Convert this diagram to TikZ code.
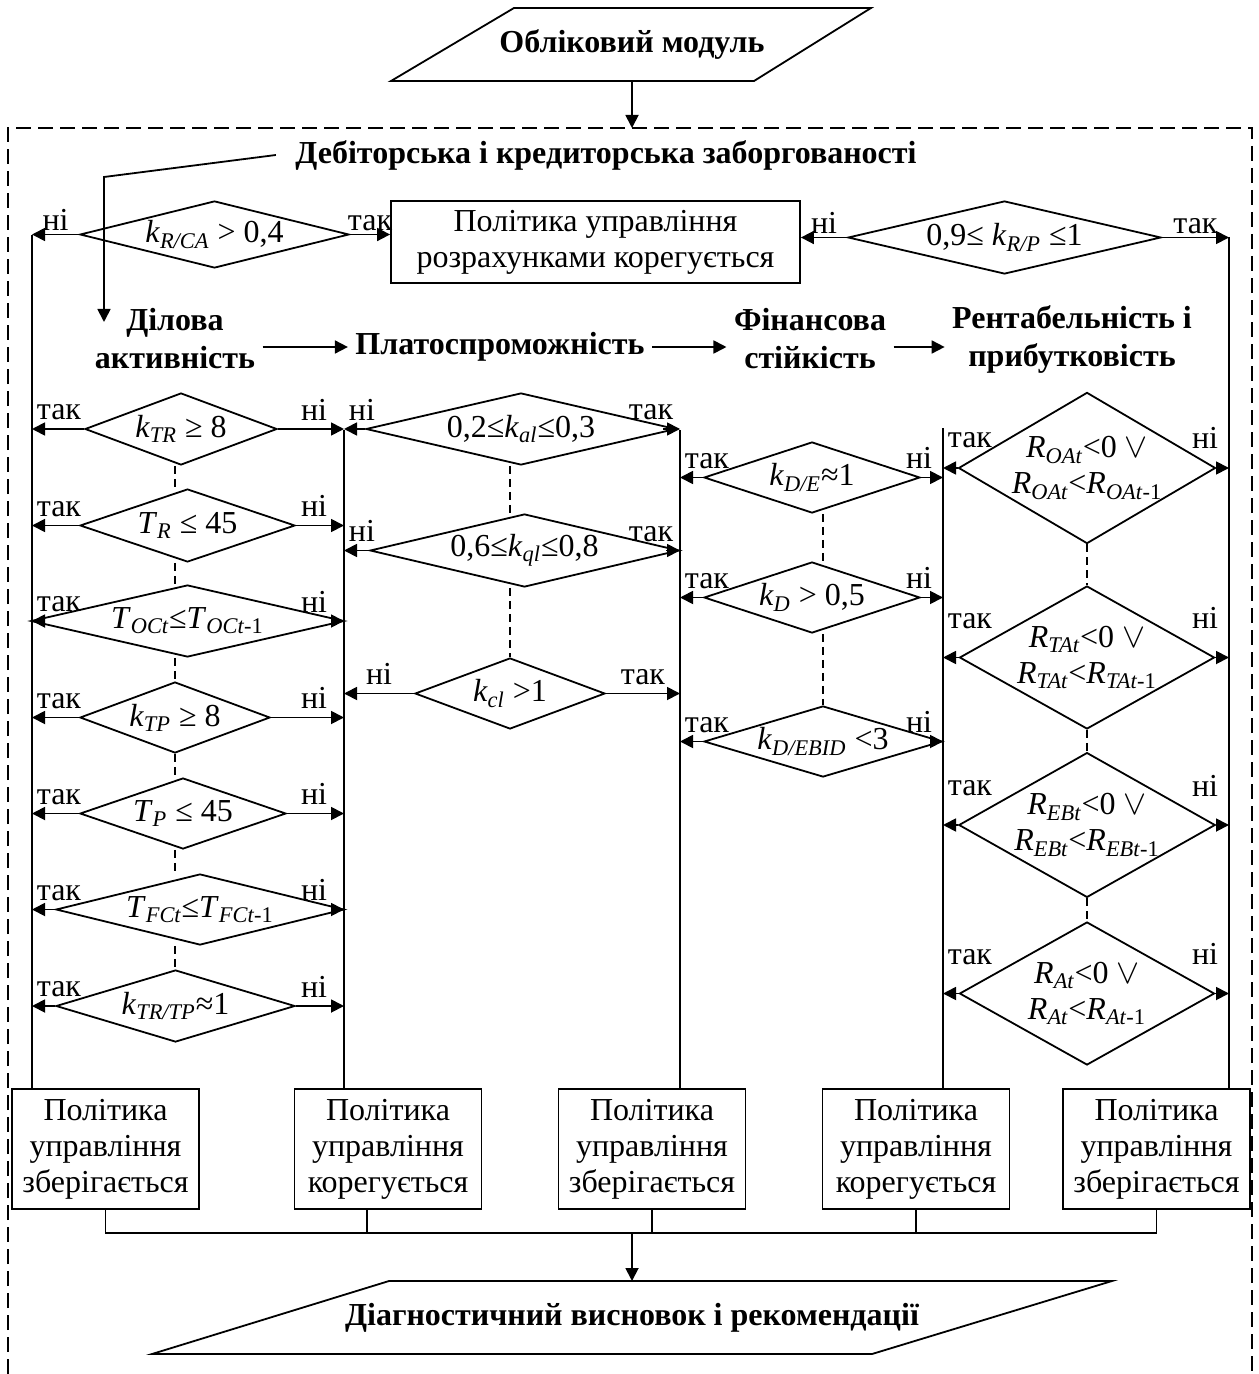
\documentclass[tikz,border=0pt]{standalone}
\usepackage{fontspec}
\setmainfont{Liberation Serif}
\usetikzlibrary{shapes.geometric,arrows.meta}

\newcommand{\sbi}[1]{\textsubscript{\itshape #1}}
\newcommand{\orv}{$\vee$}

\tikzset{
  arr/.style={-{Triangle[length=6.5pt,width=6.5pt]}},
  rail/.style={line width=0.9pt},
  cond/.code 2 args={\pgfmathsetmacro\condasp{#1/#2}%
    \tikzset{shape=diamond,draw,inner sep=0pt,aspect=\condasp,align=center,
      minimum width=#1*0.5pt,minimum height=#2*0.5pt}},
  policy/.style={draw,align=center,minimum width=93.5pt,minimum height=60pt,inner sep=1pt},
  head/.style={font=\fontsize{16}{19}\selectfont\bfseries,align=center},
  frame/.style={line width=0.75pt,dash pattern=on 7.5pt off 3.5pt},
  seq/.style={line width=0.8pt,dash pattern=on 4pt off 2.5pt},
  lbl/.style={inner sep=1pt,yshift=3pt},
  lblm/.style={lbl,midway,above},
  lblw/.style={lbl,pos=1,anchor=south west,xshift=1pt},
  lble/.style={lbl,pos=1,anchor=south east,xshift=-4pt}
}

\begin{document}
\begin{tikzpicture}[x=0.5pt,y=-0.5pt,line width=0.9pt,font=\fontsize{16}{18}\selectfont]
\useasboundingbox (0,0) rectangle (1258,1374);

% Input
\draw (514,8) -- (871,8) -- (754,81) -- (391,81) -- cycle;
\node[font=\fontsize{16}{18}\selectfont\bfseries] (acc) at (632,45) {Обліковий модуль};
\coordinate (accb) at (632,81);
\coordinate (frtop) at (632,128);
\draw[arr] (accb) -- (frtop);

% Analysis block
\draw[frame] (8,1374) -- (8,128) -- (1252,128) -- (1252,1374);

\node[head] (debt) at (606,155) {Дебіторська і кредиторська заборгованості};
\coordinate (bend) at (104,177);
\coordinate (dila) at (104,322);
\draw[arr] ([xshift=-6pt]debt.west) -- (bend) -- (dila);

% Settlement check
\node[cond={269}{67}] (dca) at (214.5,234.5) {\textit{k}\sbi{R/CA} > 0,4};
\node[draw,align=center,minimum width=204.5pt,minimum height=41pt] (pol0) at (595.5,242)
  {Політика управління\\розрахунками корегується};
\node[cond={313}{73}] (drp) at (1004.5,237.5) {0,9≤ \textit{k}\sbi{R/P} ≤1};

\coordinate (ra) at (32,235);
\coordinate (rb) at (344,430);
\coordinate (rc) at (680,430);
\coordinate (rd) at (943,428);
\coordinate (re) at (1229,237);

\draw[arr] (dca.west) -- (dca.west -| ra) node[lblm,yshift=-2.5pt] {ні};
\draw[arr] (dca.east) -- (dca.east -| pol0.west) node[lblm,yshift=-2.5pt] {так};
\draw[arr] (drp.west) -- (drp.west -| pol0.east) node[lblm,yshift=-2.5pt] {ні};
\draw[arr] (drp.east) -- (drp.east -| re) node[lblm,yshift=-2.5pt] {так};

% Groups of indicators
\node[head] (dil) at (175,339) {Ділова\\активність};
\node[head] (plat) at (500,347) {Платоспроможність};
\node[head] (fin) at (810,339) {Фінансова\\стійкість};
\node[head] (rent) at (1072,339) {Рентабельність і\\прибутковість};
\draw[arr] (dil.east |- plat) -- (plat.west);
\draw[arr] (plat.east) -- (fin.west |- plat);
\draw[arr] (fin.east |- plat) -- (rent.west |- plat);

% Business activity
\node[cond={192}{72}] (d1) at (181,429) {\textit{k}\sbi{TR} ≥ 8};
\node[cond={215}{73}] (d2) at (187.5,525.5) {\textit{T}\sbi{R} ≤ 45};
\node[cond={313}{72}] (d3) at (187.5,621) {\textit{T}\sbi{OCt}≤\textit{T}\textsubscript{\textit{OCt}-1}};
\node[cond={190}{71}] (d4) at (175,717.5) {\textit{k}\sbi{TP} ≥ 8};
\node[cond={206}{71}] (d5) at (183,813.5) {\textit{T}\sbi{P} ≤ 45};
\node[cond={288}{71}] (d6) at (200,909.5) {\textit{T}\sbi{FCt}≤\textit{T}\textsubscript{\textit{FCt}-1}};
\node[cond={239}{72}] (d7) at (175.5,1006) {\textit{k}\sbi{TR/TP}≈1};

\foreach \d in {d1,d2,d4,d5,d7}
  \draw[arr] (\d.west) -- (\d.west -| ra) node[lblw] {так};
\draw[arr] ([xshift=7pt]d3.west) -- (d3.west -| ra) node[lblw] {так};
\draw[arr] (d6.west) -- (d6.west -| ra) node[lblw] {так};
\foreach \d in {d1,d2,d4,d5,d7}
  \draw[arr] (\d.east) -- (\d.east -| rb) node[lble,xshift=-3pt] {ні};
\draw[arr] ([xshift=-7pt]d3.east) -- (d3.east -| rb) node[lble,xshift=-3pt] {ні};
\draw[arr] ([xshift=-7pt]d6.east) -- (d6.east -| rb) node[lble,xshift=-3pt] {ні};

% Solvency
\node[cond={310}{72}] (d8) at (521,429) {0,2≤\textit{k}\sbi{al}≤0,3};
\node[cond={309}{73}] (d9) at (524.5,550.5) {0,6≤\textit{k}\sbi{ql}≤0,8};
\node[cond={190}{71}] (d10) at (510,693.5) {\textit{k}\sbi{cl} >1};

\foreach \d in {d8,d9} {
  \draw[arr] (\d.west) -- (\d.west -| rb) node[lblw] {ні};
  \draw[arr] ([xshift=-7pt]\d.east) -- (\d.east -| rc) node[lble,xshift=2pt] {так};
}
\draw[arr] (d10.west) -- (d10.west -| rb) node[lblm] {ні};
\draw[arr] (d10.east) -- (d10.east -| rc) node[lblm] {так};

% Financial stability
\node[cond={216}{71}] (d11) at (812,477.5) {\textit{k}\sbi{D/E}≈1};
\node[cond={216}{71}] (d12) at (812,597.5) {\textit{k}\sbi{D} > 0,5};
\node[cond={238}{71}] (d13) at (823,741.5) {\textit{k}\sbi{D/EBID} <3};

\foreach \d in {d11,d12,d13} {
  \draw[arr] (\d.west) -- (\d.west -| rc) node[lblw] {так};
  \draw[arr] (\d.east) -- (\d.east -| rd) node[lble] {ні};
}

% Profitability
\node[cond={255}{150}] (d14) at (1087,468)
  {\textit{R}\sbi{OAt}<0 \orv\\\textit{R}\sbi{OAt}<\textit{R}\textsubscript{\textit{OAt}-1}};
\node[cond={255}{143}] (d15) at (1087,657.5)
  {\textit{R}\sbi{TAt}<0 \orv\\\textit{R}\sbi{TAt}<\textit{R}\textsubscript{\textit{TAt}-1}};
\node[cond={255}{144}] (d16) at (1087,825)
  {\textit{R}\sbi{EBt}<0 \orv\\\textit{R}\sbi{EBt}<\textit{R}\textsubscript{\textit{EBt}-1}};
\node[cond={255}{143}] (d17) at (1087,993.5)
  {\textit{R}\sbi{At}<0 \orv\\\textit{R}\sbi{At}<\textit{R}\textsubscript{\textit{At}-1}};

\draw[arr] (d14.west) -- (d14.west -| rd) node[lblw,yshift=5.5pt] {так};
\draw[arr] (d14.east) -- (d14.east -| re) node[lble,yshift=5.5pt] {ні};
\foreach \d in {d15,d16,d17} {
  \draw[arr] (\d.west) -- (\d.west -| rd) node[lblw,yshift=10pt] {так};
  \draw[arr] (\d.east) -- (\d.east -| re) node[lble,yshift=10pt] {ні};
}

% Dashed links inside each group
\coordinate (ka) at (175,0);
\coordinate (kb) at (510,0);
\coordinate (kc) at (823,0);
\coordinate (kd) at (1087,0);
\foreach \a/\b/\k in {d1/d2/ka,d2/d3/ka,d3/d4/ka,d4/d5/ka,d5/d6/ka,d6/d7/ka,
                      d8/d9/kb,d9/d10/kb,d11/d12/kc,d12/d13/kc,
                      d14/d15/kd,d15/d16/kd,d16/d17/kd}
  \draw[seq] (\k |- \a.south) -- (\k |- \b.north);

% Decisions
\node[policy] (b1) at (105.5,1149) {Політика\\управління\\зберігається};
\node[policy] (b2) at (388,1149) {Політика\\управління\\корегується};
\node[policy] (b3) at (652,1149) {Політика\\управління\\зберігається};
\node[policy] (b4) at (916,1149) {Політика\\управління\\корегується};
\node[policy] (b5) at (1156.5,1149) {Політика\\управління\\зберігається};

\draw[rail] (ra) -- (ra |- b1.north);
\draw[rail] (rb) -- (rb |- b2.north);
\draw[rail] (rc) -- (rc |- b3.north);
\draw[rail] (rd) -- (rd |- b4.north);
\draw[rail] (re) -- (re |- b5.north);

% Output
\coordinate (bus) at (632,1233);
\coordinate (diagt) at (632,1281);
\draw (b1.south) -- (b1.south |- bus) -- (b5.south |- bus) -- (b5.south);
\draw ([xshift=-10.5pt]b2.south) -- ([xshift=-10.5pt]b2.south |- bus);
\foreach \b in {b3,b4}
  \draw (\b.south) -- (\b.south |- bus);
\draw[arr] (bus) -- (diagt);

\draw (389,1281) -- (1112,1281) -- (872,1354) -- (152,1354) -- cycle;
\node[font=\fontsize{16}{18}\selectfont\bfseries] (diag) at (632,1318) {Діагностичний висновок і рекомендації};
\end{tikzpicture}
\end{document}
